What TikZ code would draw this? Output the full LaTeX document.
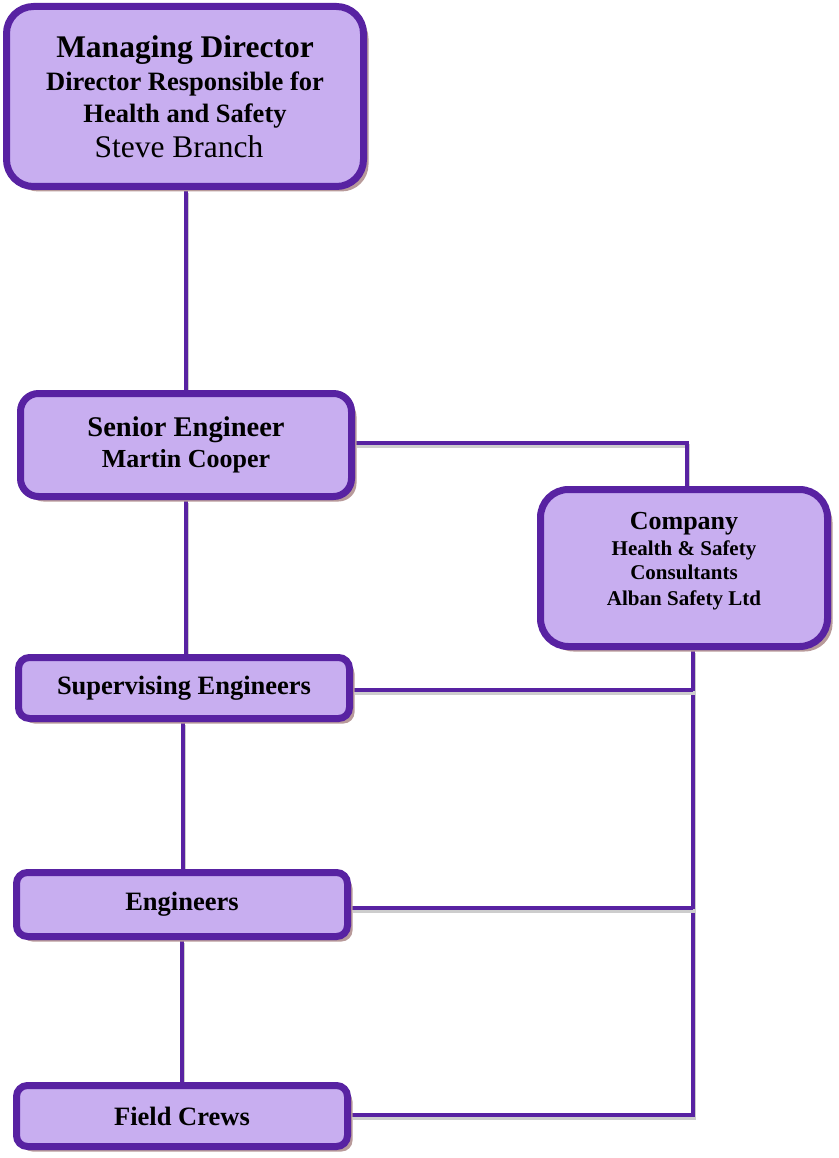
\documentclass[tikz,border=0pt]{standalone}
\usepackage{fontspec}
\setmainfont{Liberation Serif}
\usetikzlibrary{shadows,calc,backgrounds}
\definecolor{bordc}{RGB}{88,34,162}
\definecolor{fillc}{RGB}{200,174,240}
\definecolor{shadc}{RGB}{184,154,154}
\definecolor{lshadc}{RGB}{205,205,205}
\tikzset{
  orgbox/.style={draw=bordc, fill=fillc, line width=7pt, inner sep=0pt, align=center,
    drop shadow={shadow xshift=5pt, shadow yshift=-5pt, fill=shadc, opacity=1}},
  conn/.style={draw=bordc, line width=3.5pt,
    preaction={draw=lshadc, line width=3.5pt, transform canvas={xshift=1.5pt,yshift=-3pt}}},
  plain/.style={inner sep=0pt, align=center}
}
\begin{document}
\begin{tikzpicture}[x=1pt,y=-1pt]
\useasboundingbox (0,0) rectangle (838,1158);
\node[orgbox, minimum width=357pt, minimum height=180pt, rounded corners=27pt] (md) at (185,96.5)
 {\fontsize{31.5}{32}\selectfont\bfseries Managing Director\\[7pt]
  \fontsize{26.5}{32}\selectfont\bfseries Director Responsible for\\[7pt]
  \fontsize{26.5}{32}\selectfont\bfseries Health and Safety\\[6pt]
  \fontsize{31.5}{34}\selectfont\hspace*{-12pt}Steve Branch};
\node[orgbox, minimum width=331pt, minimum height=103pt, rounded corners=18pt] (se) at (186,445)
 {\fontsize{28.5}{30}\selectfont\bfseries Senior Engineer\\[5pt]
  \fontsize{26}{30}\selectfont\bfseries Martin Cooper};
\node[orgbox, minimum width=287pt, minimum height=157pt, rounded corners=28pt] (co) at (684,568) {};
\node[plain] (cot) at ([yshift=7pt]co.center) {\fontsize{26}{26}\selectfont\bfseries Company\\[5pt]
  \fontsize{21}{24.5}\selectfont\bfseries Health \& Safety\\[3pt]
  \fontsize{21}{24.5}\selectfont\bfseries Consultants\\[10pt]
  \fontsize{21}{24.5}\selectfont\bfseries Alban Safety Ltd};
\node[orgbox, minimum width=331pt, minimum height=61pt, rounded corners=11pt] (sup) at (184,688)
 {\fontsize{26.5}{30}\selectfont\bfseries Supervising Engineers};
\node[orgbox, minimum width=331pt, minimum height=64pt, rounded corners=11pt] (eng) at (182,904.5)
 {\fontsize{26.5}{30}\selectfont\bfseries Engineers};
\node[orgbox, minimum width=331pt, minimum height=61pt, rounded corners=11pt] (fc) at (182,1116)
 {\fontsize{26.5}{30}\selectfont\bfseries Field Crews};
\begin{scope}[on background layer]
\draw[conn] ([xshift=1pt]md.south) -- ([xshift=1pt]md.south |- se.north);
\draw[conn] (se.south) -- (se.south |- sup.north);
\draw[conn] ([xshift=-1pt]sup.south) -- ([xshift=-1pt]sup.south |- eng.north);
\draw[conn] (eng.south) -- (eng.south |- fc.north);
\draw[conn] ([yshift=2pt]se.east) -| ([xshift=3pt]co.north);
\coordinate (cb) at ([xshift=9pt]co.south);
\draw[conn] (cb) |- ([yshift=1pt]fc.east);
\draw[conn] ([yshift=-2pt]sup.east) -- ([yshift=-2pt]sup.east -| cb);
\draw[conn] ([yshift=-3.5pt]eng.east) -- ([yshift=-3.5pt]eng.east -| cb);
\end{scope}
\end{tikzpicture}
\end{document}
